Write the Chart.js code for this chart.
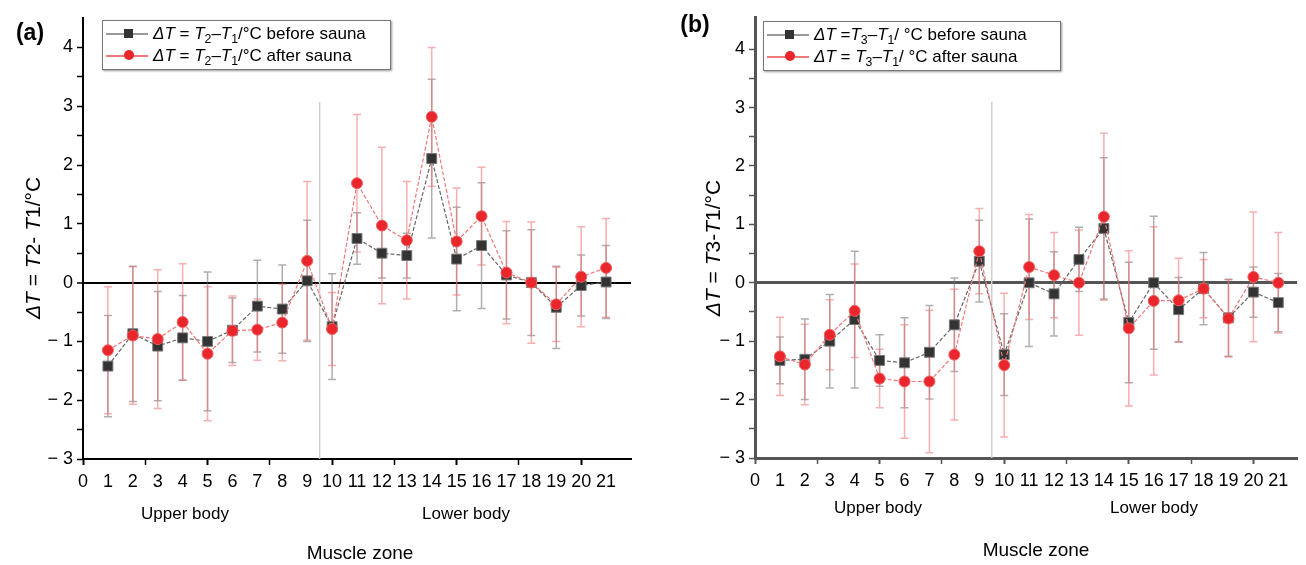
<!DOCTYPE html>
<html>
<head>
<meta charset="utf-8">
<script src="https://cdn.jsdelivr.net/npm/chart.js@4.4.0/dist/chart.umd.min.js"></script>
<style>
  body { margin: 0; background: #fff; font-family: "Liberation Sans", Arial, sans-serif; }
  #wrap { position: relative; width: 1306px; height: 565px; overflow: hidden; }
  canvas { position: absolute; top: 0; }
  .txt { position: absolute; white-space: nowrap; color: #000; transform: translate(-50%, -50%); }
  .ytitle { position: absolute; white-space: nowrap; font-size: 21px; transform: translate(-50%, -50%) rotate(-90deg); }
  .legend { position: absolute; background: #fff; border: 1px solid #777; box-shadow: 1px 1px 2px #999;
            font-size: 17px; padding-top: 2px; box-sizing: border-box; }
  .row { height: 22px; display: flex; align-items: center; }
  .sym { position: relative; width: 50px; height: 22px; flex: none; }
  .sym .ln { position: absolute; left: 3px; right: 5px; top: 10px; height: 1.5px; }
  .sym .mk { position: absolute; left: 21px; top: 6px; width: 9px; height: 9px; }
  sub { font-size: 0.72em; vertical-align: -0.35em; line-height: 0; }
</style>
</head>
<body>
<div id="wrap">
  <canvas id="chartA" width="650" height="565" style="left:0"></canvas>
  <canvas id="chartB" width="650" height="565" style="left:656px"></canvas>

  <div class="txt" style="left:30px;top:32px;font-size:23px;font-weight:bold">(a)</div>
  <div class="txt" style="left:695px;top:24px;font-size:23px;font-weight:bold">(b)</div>

  <div class="ytitle" style="left:33px;top:248px"><i>ΔT</i> = <i>T</i>2- <i>T</i>1/°C</div>
  <div class="ytitle" style="left:713px;top:248px"><i>ΔT</i> = <i>T</i>3-<i>T</i>1/°C</div>

  <div class="legend" style="left:102px;top:20px;width:289px;height:50px">
    <div class="row"><div class="sym"><div class="ln" style="background:#999"></div><div class="mk" style="background:#333"></div></div>
      <span><i>ΔT</i> = <i>T</i><sub>2</sub>–<i>T</i><sub>1</sub>/°C before sauna</span></div>
    <div class="row"><div class="sym"><div class="ln" style="background:#f07878"></div><div class="mk" style="background:#e8262b;border-radius:50%;width:10px;height:10px;top:5px"></div></div>
      <span><i>ΔT</i> = <i>T</i><sub>2</sub>–<i>T</i><sub>1</sub>/°C after sauna</span></div>
  </div>
  <div class="legend" style="left:763px;top:21px;width:298px;height:50px">
    <div class="row"><div class="sym"><div class="ln" style="background:#999"></div><div class="mk" style="background:#333"></div></div>
      <span><i>ΔT</i> =<i>T</i><sub>3</sub>–<i>T</i><sub>1</sub>/ °C before sauna</span></div>
    <div class="row"><div class="sym"><div class="ln" style="background:#f07878"></div><div class="mk" style="background:#e8262b;border-radius:50%;width:10px;height:10px;top:5px"></div></div>
      <span><i>ΔT</i> = <i>T</i><sub>3</sub>–<i>T</i><sub>1</sub>/ °C after sauna</span></div>
  </div>

  <div class="txt" style="left:185px;top:514px;font-size:17px">Upper body</div>
  <div class="txt" style="left:466px;top:514px;font-size:17px">Lower body</div>
  <div class="txt" style="left:360px;top:553px;font-size:19px">Muscle zone</div>
  <div class="txt" style="left:878px;top:508px;font-size:17px">Upper body</div>
  <div class="txt" style="left:1154px;top:508px;font-size:17px">Lower body</div>
  <div class="txt" style="left:1036px;top:550px;font-size:19px">Muscle zone</div>
</div>

<script>
// ---------- data ----------
const zones = [1, 2, 3, 4, 5, 6, 7, 8, 9, 10, 11, 12, 13, 14, 15, 16, 17, 18, 19, 20, 21];

// panel (a): T2 - T1
const aBefore    = [-1.42, -0.87, -1.08, -0.94, -1.00, -0.81, -0.40, -0.45, 0.03, -0.75, 0.75, 0.50, 0.46, 2.11, 0.40, 0.63, 0.13, 0.00, -0.42, -0.05, 0.01];
const aBeforeErr = [0.86, 1.15, 0.93, 0.72, 1.18, 0.55, 0.78, 0.75, 1.03, 0.90, 0.44, 0.42, 0.38, 1.35, 0.88, 1.07, 0.75, 0.90, 0.70, 0.52, 0.62];
const aAfter     = [-1.15, -0.90, -0.96, -0.67, -1.21, -0.82, -0.80, -0.68, 0.37, -0.79, 1.69, 0.97, 0.72, 2.82, 0.70, 1.13, 0.17, 0.00, -0.37, 0.10, 0.25];
const aAfterErr  = [1.08, 1.17, 1.18, 0.99, 1.14, 0.59, 0.52, 0.65, 1.35, 0.62, 1.17, 1.33, 1.00, 1.18, 0.91, 0.83, 0.87, 1.03, 0.63, 0.85, 0.84];

// panel (b): T3 - T1
const bBefore    = [-1.33, -1.31, -1.00, -0.63, -1.33, -1.37, -1.19, -0.72, 0.37, -1.23, 0.00, -0.19, 0.40, 0.93, -0.68, 0.00, -0.46, -0.10, -0.60, -0.16, -0.34];
const bBeforeErr = [0.40, 0.69, 0.80, 1.17, 0.44, 0.77, 0.80, 0.80, 0.70, 0.70, 1.09, 0.72, 0.55, 1.21, 1.03, 1.14, 0.55, 0.62, 0.66, 0.43, 0.50];
const bAfter     = [-1.26, -1.40, -0.89, -0.48, -1.64, -1.69, -1.69, -1.23, 0.54, -1.41, 0.27, 0.13, 0.00, 1.13, -0.78, -0.31, -0.30, -0.10, -0.61, 0.10, 0.00];
const bAfterErr  = [0.67, 0.69, 0.60, 0.80, 0.50, 0.97, 1.22, 1.12, 0.73, 1.23, 0.90, 0.73, 0.90, 1.43, 1.33, 1.27, 0.72, 0.50, 0.66, 1.11, 0.86];

// upper / lower body divider
const dividerX = 9.5;
const aDividerTop = 3.07;
const bDividerTop = 3.1;

// ticks
const xLabelTicks = [0, 1, 2, 3, 4, 5, 6, 7, 8, 9, 10, 11, 12, 13, 14, 15, 16, 17, 18, 19, 20, 21];
const xMinorTicks = [2.5, 7.5, 12.5, 17.5];
const yTicks = [-3, -2.5, -2, -1.5, -1, -0.5, 0, 0.5, 1, 1.5, 2, 2.5, 3, 3.5, 4];

Chart.defaults.font.family = "'Liberation Sans', Arial, sans-serif";
Chart.defaults.font.size = 18;
Chart.defaults.color = "#000";

// vertical error bars with caps, drawn under the markers
const errorBarPlugin = {
    id: "errorBars",
    beforeDatasetsDraw(chart) {
        const { ctx, scales: { x, y } } = chart;
        // black series bars first, red on top
        [...chart.data.datasets].reverse().forEach((ds) => {
            if (!ds.errors) return;
            ctx.save();
            ctx.strokeStyle = ds.errorColor;
            ctx.lineWidth = 1.5;
            ds.data.forEach((pt, j) => {
                const px = x.getPixelForValue(pt.x);
                const top = y.getPixelForValue(pt.y + ds.errors[j]);
                const bot = y.getPixelForValue(pt.y - ds.errors[j]);
                ctx.beginPath();
                ctx.moveTo(px, top); ctx.lineTo(px, bot);
                ctx.moveTo(px - 4, top); ctx.lineTo(px + 4, top);
                ctx.moveTo(px - 4, bot); ctx.lineTo(px + 4, bot);
                ctx.stroke();
            });
            ctx.restore();
        });
    }
};

function toPoints(vals) {
    return zones.map((z, i) => ({ x: z, y: vals[i] }));
}

function makeChart(id, before, beforeErr, after, afterErr, o) {
    const ctx = document.getElementById(id).getContext("2d");
    return new Chart(ctx, {
        type: "line",
        data: {
            datasets: [
                {
                    label: "after",
                    data: toPoints(after),
                    errors: afterErr,
                    errorColor: "rgba(240, 110, 110, 0.55)",
                    borderColor: "#f07878",
                    borderWidth: 1.2,
                    borderDash: [4, 2],
                    pointStyle: "circle",
                    pointRadius: 5.5,
                    pointBackgroundColor: "#e8262b",
                    pointBorderColor: "#f06060",
                    pointBorderWidth: 1
                },
                {
                    label: "before",
                    data: toPoints(before),
                    errors: beforeErr,
                    errorColor: "rgba(110, 110, 110, 0.55)",
                    borderColor: "#666",
                    borderWidth: 1.2,
                    borderDash: [4, 2],
                    pointStyle: "rect",
                    pointRadius: 7,
                    pointBackgroundColor: "#333",
                    pointBorderColor: "#777",
                    pointBorderWidth: 1
                },
                {
                    label: "divider",
                    data: [{ x: dividerX, y: -3 }, { x: dividerX, y: o.dividerTop }],
                    borderColor: "#cfcfcf",
                    borderWidth: 1.5,
                    pointRadius: 0
                }
            ]
        },
        options: {
            responsive: false,
            animation: false,
            devicePixelRatio: 1,
            layout: { padding: { left: 0, right: o.padRight, top: o.padTop, bottom: 0 } },
            plugins: {
                legend: { display: false },
                tooltip: { enabled: false }
            },
            scales: {
                x: {
                    type: "linear",
                    min: 0,
                    max: o.xMax,
                    afterBuildTicks: (axis) => {
                        axis.ticks = [...xLabelTicks, ...xMinorTicks].sort((a, b) => a - b).map((v) => ({ value: v }));
                    },
                    afterFit: (axis) => { axis.height = o.xHeight; },
                    ticks: {
                        autoSkip: false,
                        maxRotation: 0,
                        padding: 6,
                        callback: (v) => (Number.isInteger(v) ? String(v) : "")
                    },
                    grid: {
                        drawOnChartArea: false,
                        tickLength: 6,
                        tickColor: (c) => (c.tick && c.tick.value % 2.5 === 0 ? o.axisColor : "rgba(0,0,0,0)"),
                        tickWidth: (c) => (c.tick && c.tick.value % 5 === 0 ? 2 : 1.5)
                    },
                    border: { color: o.axisColor, width: o.axisWidth }
                },
                y: {
                    min: -3,
                    max: o.yMax,
                    afterBuildTicks: (axis) => {
                        axis.ticks = yTicks.map((v) => ({ value: v }));
                    },
                    afterFit: (axis) => { axis.width = o.yWidth; },
                    ticks: {
                        padding: 4,
                        callback: (v) => (Number.isInteger(v) ? (v < 0 ? "\u2212 " + Math.abs(v) : String(v)) : "")
                    },
                    grid: {
                        tickLength: 6,
                        color: (c) => (c.tick && c.tick.value === 0 ? o.axisColor : "rgba(0,0,0,0)"),
                        lineWidth: (c) => (c.tick && c.tick.value === 0 ? o.axisWidth : 1),
                        tickColor: o.axisColor,
                        tickWidth: 1.5
                    },
                    border: { color: o.axisColor, width: o.axisWidth }
                }
            }
        },
        plugins: [errorBarPlugin]
    });
}

makeChart("chartA", aBefore, aBeforeErr, aAfter, aAfterErr, {
    xMax: 22, yMax: 4.5, dividerTop: aDividerTop,
    yWidth: 83, xHeight: 106, padRight: 19, padTop: 18,
    axisColor: "#000", axisWidth: 2
});

makeChart("chartB", bBefore, bBeforeErr, bAfter, bAfterErr, {
    xMax: 21.75, yMax: 4.55, dividerTop: bDividerTop,
    yWidth: 99, xHeight: 107, padRight: 9, padTop: 17,
    axisColor: "#555", axisWidth: 3
});
</script>
</body>
</html>
